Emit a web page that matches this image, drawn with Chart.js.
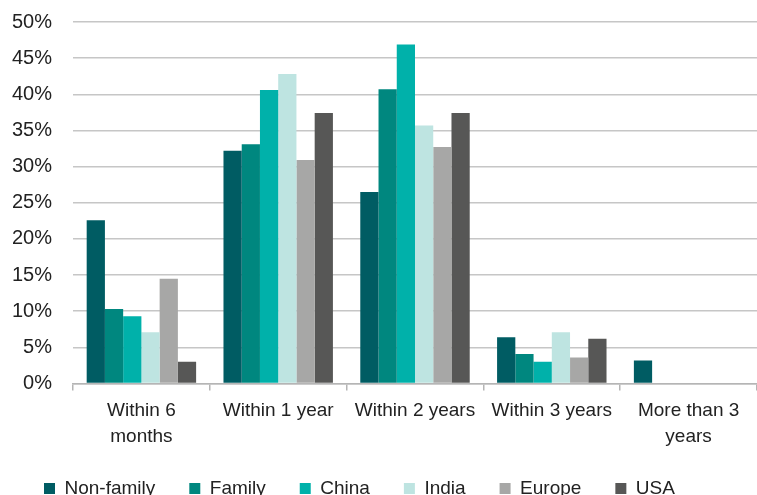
<!DOCTYPE html>
<html>
<head>
<meta charset="utf-8">
<script src="https://cdn.jsdelivr.net/npm/chart.js@4"></script>
<style>
    html, body { margin: 0; padding: 0; background: #fff; overflow: hidden; }
    #wrap { position: relative; width: 757px; height: 520px; }
</style>
</head>
<body>
<div id="wrap"><canvas id="timingChart"></canvas></div>
<script>
// --- Data ---
const categories = [['Within 6', 'months'], 'Within 1 year', 'Within 2 years', 'Within 3 years', ['More than 3', 'years']];
const nonFamily = [22.6, 32.2, 26.5, 6.4, 3.2];
const family    = [10.3, 33.1, 40.7, 4.1, 0];
const china     = [9.3, 40.6, 46.9, 3.0, 0];
const india     = [7.1, 42.8, 35.7, 7.1, 0];
const europe    = [14.5, 30.9, 32.7, 3.6, 0];
const usa       = [3.0, 37.4, 37.4, 6.2, 0];
const yTicks = [0, 5, 10, 15, 20, 25, 30, 35, 40, 45, 50];

const seriesNames = ['Non-family', 'Family', 'China', 'India', 'Europe', 'USA'];
const seriesData = [nonFamily, family, china, india, europe, usa];
const seriesColors = ['#005c63', '#00877f', '#00b1aa', '#bee4e1', '#a7a7a6', '#575756'];

const font = { family: "'Liberation Sans', Arial, sans-serif", size: 19 };

// pull the legend rows up closer to the axis labels
const legendLift = {
    id: 'legendLift',
    afterLayout(chart) {
        chart.legend.top -= 12;
        chart.legend.bottom -= 12;
    }
};

const ctx = document.getElementById('timingChart').getContext('2d');
new Chart(ctx, {
    type: 'bar',
    data: {
        labels: categories,
        datasets: seriesNames.map((name, i) => ({
            label: name,
            data: seriesData[i],
            backgroundColor: seriesColors[i],
            borderWidth: 0,
            categoryPercentage: 0.8,
            barPercentage: 1.0
        }))
    },
    plugins: [legendLift],
    options: {
        responsive: true,
        maintainAspectRatio: false,
        animation: false,
        layout: { padding: { top: 22, left: 10, right: 0, bottom: 0 } },
        plugins: {
            tooltip: { enabled: false },
            legend: {
                position: 'bottom',
                align: 'start',
                labels: {
                    boxWidth: 11,
                    boxHeight: 11,
                    padding: 34,
                    color: '#222',
                    font: font
                }
            }
        },
        scales: {
            x: {
                offset: true,
                grid: {
                    offset: true,
                    drawOnChartArea: false,
                    drawTicks: true,
                    tickLength: 7,
                    color: '#b5b5b5',
                    lineWidth: 1.5
                },
                border: { display: true, color: '#b5b5b5', width: 1.5 },
                ticks: {
                    color: '#222',
                    font: { ...font, lineHeight: 1.38 },
                    padding: 7,
                    maxRotation: 0,
                    autoSkip: false
                }
            },
            y: {
                min: 0,
                max: 50,
                afterBuildTicks: (scale) => { scale.ticks = yTicks.map(v => ({ value: v })); },
                afterFit: (scale) => {
                    scale.width = 63;
                    scale.paddingTop = 0;
                    scale.paddingBottom = 0;
                },
                grid: { color: '#c6c6c6', lineWidth: 1.5, drawTicks: false },
                border: { display: false },
                ticks: {
                    color: '#222',
                    font: { ...font, size: 20 },
                    padding: 21,
                    callback: (v) => v + '%'
                }
            }
        }
    }
});
</script>
</body>
</html>
